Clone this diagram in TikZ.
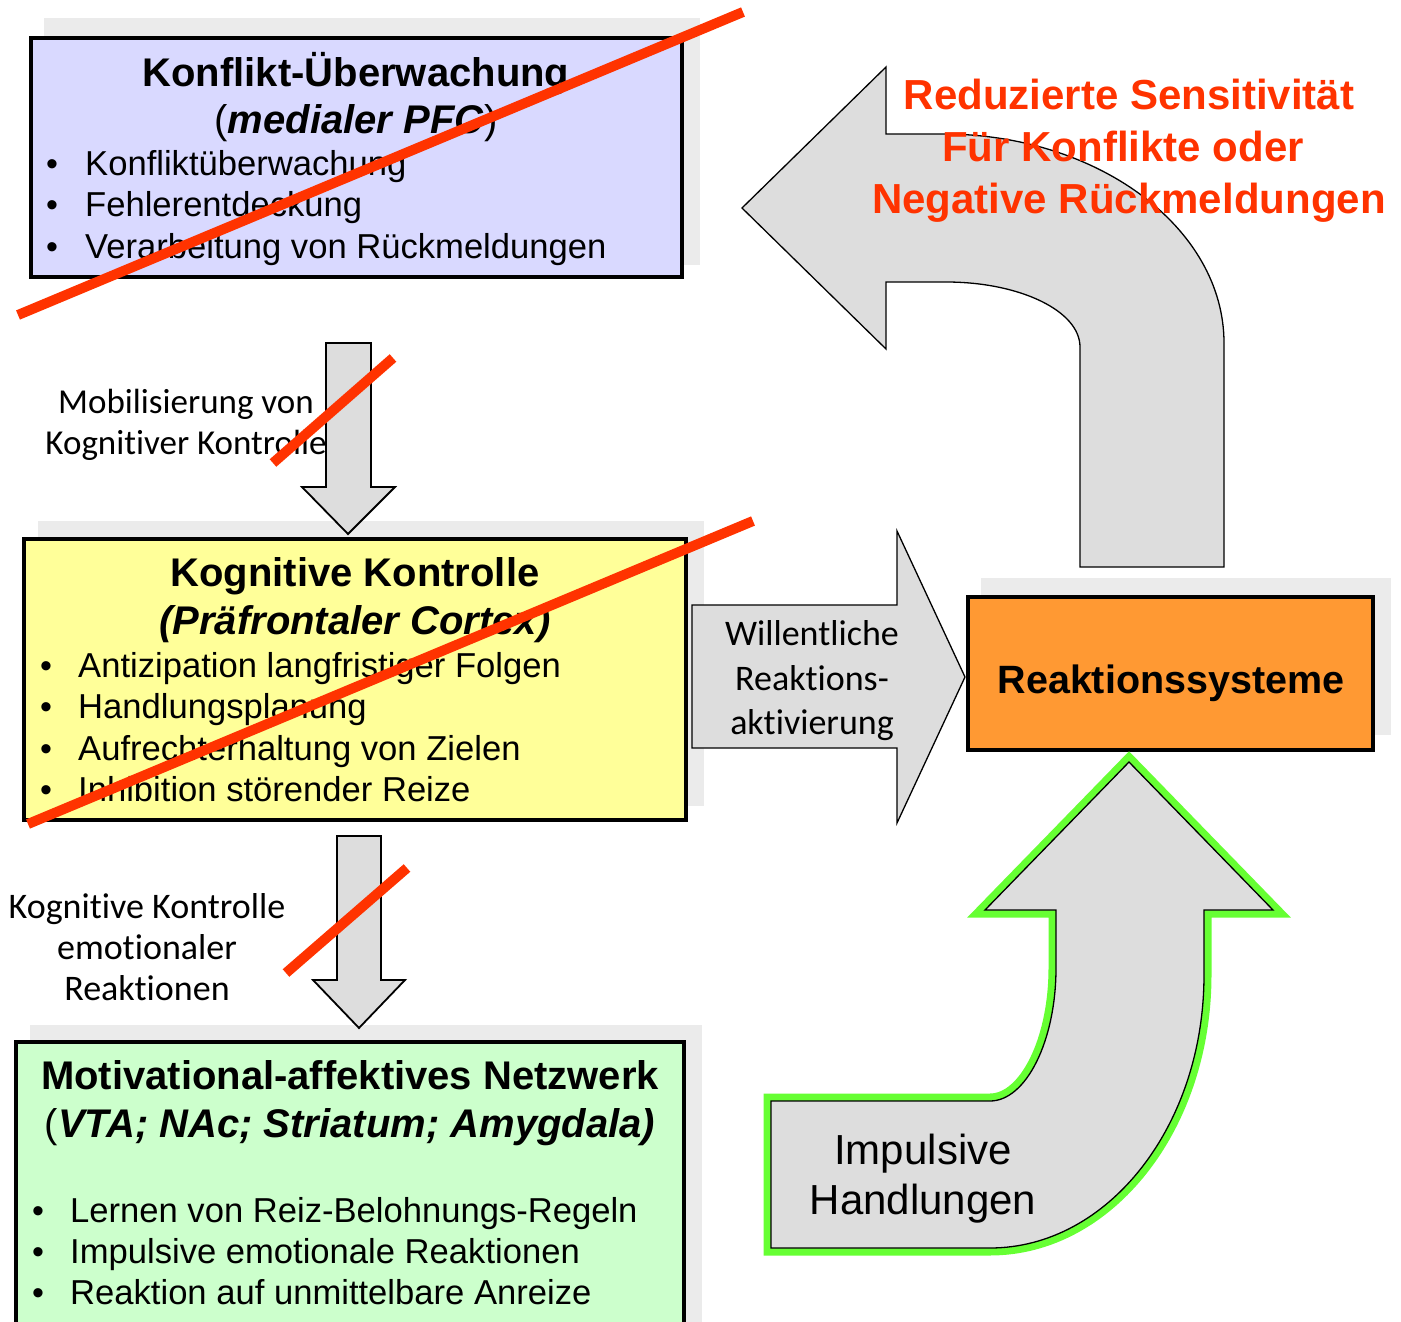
\documentclass[tikz,border=0pt]{standalone}
\usepackage{fontspec}
\setmainfont{Liberation Sans}
\newfontfamily\cali[Ligatures=NoCommon]{Carlito}
\definecolor{shadowgray}{RGB}{235,235,235}
\definecolor{arrowgray}{RGB}{221,221,221}
\definecolor{redx}{RGB}{255,51,0}
\definecolor{lavender}{RGB}{217,217,255}
\definecolor{lightyellow}{RGB}{255,255,153}
\definecolor{lightgreen}{RGB}{204,255,204}
\definecolor{orangebox}{RGB}{255,153,51}
\definecolor{glowgreen}{RGB}{102,255,51}
\begin{document}
\begin{tikzpicture}[x=1pt,y=-1pt,
  shadowrect/.style={fill=shadowgray,draw=none},
  boxstyle/.style={draw=black,line width=3.5pt,anchor=north west,inner sep=0pt,outer sep=0pt},
  blockarrow/.style={fill=arrowgray,draw=black,line width=1.8pt,line join=miter},
  thinarrow/.style={fill=arrowgray,draw=black,line width=1.3pt,line join=miter},
  redline/.style={draw=redx,line width=10pt},
  boxtitle/.style={font=\fontsize{40}{48}\selectfont\bfseries,anchor=base,inner sep=0pt},
  bul/.style={font=\fontsize{34.6}{41}\selectfont,anchor=base west,inner sep=0pt},
  bulmark/.style={font=\fontsize{34}{41}\selectfont,anchor=base,inner sep=0pt},
  lbl/.style={font=\cali\fontsize{35}{42}\selectfont,anchor=base,inner sep=0pt},
  redtext/.style={font=\fontsize{42}{50}\selectfont\bfseries,text=redx,anchor=base,inner sep=0pt},
  bigtext/.style={font=\fontsize{42}{50}\selectfont,anchor=base,inner sep=0pt}
]
\useasboundingbox (0,0) rectangle (1401,1322);

% ---------- shadows ----------
\fill[shadowrect] (44,18) rectangle (700,265);
\fill[shadowrect] (38,521) rectangle (704,806);
\fill[shadowrect] (30,1025) rectangle (702,1330);
\fill[shadowrect] (981,578) rectangle (1391,735);

% ---------- boxes ----------
\node[boxstyle,fill=lavender,minimum width=651pt,minimum height=239pt] (konf) at (31,38) {};
\node[boxstyle,fill=lightyellow,minimum width=662pt,minimum height=281pt] (kog) at (24,539) {};
\node[boxstyle,fill=lightgreen,minimum width=668pt,minimum height=300pt] (mot) at (16,1042) {};
\node[boxstyle,fill=orangebox,minimum width=405pt,minimum height=153pt] (reak) at (968,597) {};

% ---------- top box text ----------
\node[boxtitle] (t1) at (356,86) {Konflikt-Überwachung};
\node[boxtitle] (t1b) at (356,133) {\mdseries(\bfseries\itshape medialer PFC\/\mdseries\upshape)};
\node[bulmark] (b11) at (52,175) {•};
\node[bul] (l11) at (85,175) {Konfliktüberwachung};
\node[bulmark] (b12) at (52,216) {•};
\node[bul] (l12) at (85,216) {Fehlerentdeckung};
\node[bulmark] (b13) at (52,258) {•};
\node[bul] (l13) at (85,258) {Verarbeitung von Rückmeldungen};

% ---------- middle box text ----------
\node[boxtitle] (t2) at (355,586) {Kognitive Kontrolle};
\node[boxtitle] (t2b) at (355,634) {\itshape (Präfrontaler Cortex)};
\node[bulmark] (b21) at (46,677) {•};
\node[bul] (l21) at (78,677) {Antizipation langfristiger Folgen};
\node[bulmark] (b22) at (46,718) {•};
\node[bul] (l22) at (78,718) {Handlungsplanung};
\node[bulmark] (b23) at (46,760) {•};
\node[bul] (l23) at (78,760) {Aufrechterhaltung von Zielen};
\node[bulmark] (b24) at (46,801) {•};
\node[bul] (l24) at (78,801) {Inhibition störender Reize};

% ---------- bottom box text ----------
\node[boxtitle] (t3) at (350,1089) {Motivational-affektives Netzwerk};
\node[boxtitle] (t3b) at (350,1137) {\mdseries(\bfseries\itshape VTA; NAc; Striatum; Amygdala)};
\node[bulmark] (b31) at (38,1222) {•};
\node[bul] (l31) at (70,1222) {Lernen von Reiz-Belohnungs-Regeln};
\node[bulmark] (b32) at (38,1263) {•};
\node[bul] (l32) at (70,1263) {Impulsive emotionale Reaktionen};
\node[bulmark] (b33) at (38,1304) {•};
\node[bul] (l33) at (70,1304) {Reaktion auf unmittelbare Anreize};

% ---------- Reaktionssysteme ----------
\node[font=\fontsize{39.5}{46}\selectfont\bfseries,anchor=base,inner sep=0pt] (rtext) at (1171,693) {Reaktionssysteme};

% ---------- down arrow 1 ----------
\draw[blockarrow] (326,343) -- (371,343) -- (371,487) -- (395,487) -- (348,534)
  -- (302,487) -- (326,487) -- cycle;
\node[lbl] (m1) at (186,413) {Mobilisierung von};
\node[lbl] (m2) at (186,454) {Kognitiver Kontrolle};

% ---------- down arrow 2 ----------
\draw[blockarrow] (337,836) -- (381,836) -- (381,980) -- (405,980) -- (359,1028)
  -- (313,980) -- (337,980) -- cycle;
\node[lbl,font=\cali\fontsize{36}{42}\selectfont] (k1) at (147,918) {Kognitive Kontrolle};
\node[lbl,font=\cali\fontsize{36}{42}\selectfont] (k2) at (147,959) {emotionaler};
\node[lbl,font=\cali\fontsize{36}{42}\selectfont] (k3) at (147,1000) {Reaktionen};

% ---------- right arrow ----------
\draw[thinarrow] (692,605) -- (897,605) -- (897,531) -- (965,677) -- (897,823)
  -- (897,748) -- (692,748) -- cycle;
\node[lbl,font=\cali\fontsize{36}{42}\selectfont] (w1) at (812,645) {Willentliche};
\node[lbl,font=\cali\fontsize{36}{42}\selectfont] (w2) at (812,690) {Reaktions-};
\node[lbl,font=\cali\fontsize{36}{42}\selectfont] (w3) at (812,734) {aktivierung};

% ---------- U-turn arrow (top right) ----------
\draw[thinarrow] (742,208) -- (886,67) -- (886,134) -- (943,134)
  .. controls (1098,134) and (1224,228) .. (1224,343)
  -- (1224,567) -- (1080,567) -- (1080,347)
  .. controls (1080,311) and (1020,282) .. (946,282)
  -- (886,282) -- (886,349) -- cycle;
\node[redtext] (r1) at (1129,110) {Reduzierte Sensitivität};
\node[redtext] (r2) at (1123,161) {Für Konflikte oder};
\node[redtext] (r3) at (1129,213) {Negative Rückmeldungen};

% ---------- impulsive arrow ----------
\def\imparrow{(1129,762) -- (1273,910) -- (1204,910) -- (1204,975)
  .. controls (1204,1126) and (1108,1248) .. (990,1248)
  -- (771,1248) -- (771,1101) -- (990,1101)
  .. controls (1026,1101) and (1056,1041) .. (1056,968)
  -- (1056,910) -- (985,910) -- cycle}
\draw[draw=glowgreen,line width=15pt,line join=miter] \imparrow;
\draw[thinarrow] \imparrow;
\node[bigtext] (i1) at (923,1164) {Impulsive};
\node[bigtext] (i2) at (923,1214) {Handlungen};

% ---------- red strike lines ----------
\draw[redline] (18,315) -- (743,12);
\draw[redline] (273,463) -- (393,358);
\draw[redline] (28,824) -- (753,521);
\draw[redline] (286,973) -- (407,868);
\end{tikzpicture}
\end{document}
